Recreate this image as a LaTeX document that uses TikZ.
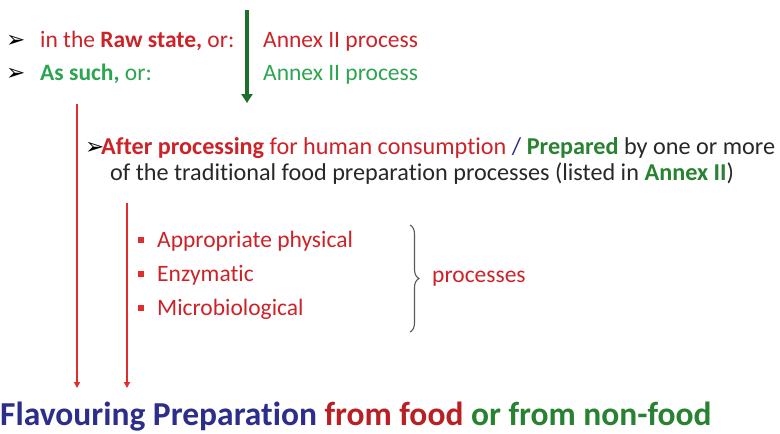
\documentclass[tikz,border=0pt]{standalone}
\usepackage{fontspec}
\setmainfont{Carlito}[Ligatures={NoCommon}]
\newfontfamily\dingfont{DejaVu Sans}
\usetikzlibrary{arrows.meta,decorations.pathreplacing}
\definecolor{txtred}{RGB}{205,35,40}
\definecolor{txtgreen}{RGB}{45,165,80}
\definecolor{darkgreen}{RGB}{30,110,45}
\definecolor{prepgreen}{RGB}{40,130,50}
\definecolor{navy}{RGB}{45,45,140}
\definecolor{linered}{RGB}{225,45,45}
\definecolor{bodygray}{RGB}{40,40,40}
\definecolor{bracegray}{RGB}{90,90,90}
\tikzset{
  txt/.style={anchor=base west, inner sep=0pt, font=\fontsize{23.5}{28}\selectfont},
  midtxt/.style={anchor=base west, inner sep=0pt, font=\fontsize{24.2}{29}\selectfont},
  bigtxt/.style={anchor=base west, inner sep=0pt, font=\fontsize{33.5}{40}\selectfont\bfseries},
  pointer/.style={anchor=base west, inner sep=0pt, font=\dingfont\fontsize{23}{26}\selectfont, text=black},
  bulletsq/.style={fill=linered, minimum size=6pt, inner sep=0pt},
  flowred/.style={draw=linered, line width=1.4pt, -{Triangle[length=6pt,width=6pt]}},
  flowgreen/.style={draw=darkgreen, line width=3.2pt, -{Triangle[length=9pt,width=11pt]}},
}
\begin{document}
\begin{tikzpicture}[x=1pt,y=-1pt]
\useasboundingbox (0,0) rectangle (780,434);
\fill[white] (0,0) rectangle (780,434);

% first two options
\node[pointer] (p1) at (6,47) {➢};
\node[txt, text=txtred] (raw) at (40,47) {in the \textbf{Raw state,} or:};
\node[pointer] (p2) at (6,80) {➢};
\node[txt, text=txtgreen] (such) at (40,80) {\textbf{As such,} or:};
\node[txt, text=txtred] (ann1) at (263,47) {Annex II process};
\node[txt, text=txtgreen] (ann2) at (263,80) {Annex II process};

\coordinate (gtop) at (247,10);
\coordinate (gbot) at (247,103);
\draw[flowgreen] (gtop) -- (gbot);

% processing option
\node[pointer] (p3) at (85,154) {➢};
\node[midtxt, text=bodygray] (after) at (101,154)
  {\textcolor{txtred}{\textbf{After processing} for human consumption} \textcolor{navy}{/} \textcolor{prepgreen}{\textbf{Prepared}} by one or more};
\node[midtxt, text=bodygray] (trad) at (110,180)
  {of the traditional food preparation processes (listed in \textcolor{prepgreen}{\textbf{Annex II}})};

% process list
\node[bulletsq] (b1) at (141,240) {};
\node[bulletsq] (b2) at (141,274) {};
\node[bulletsq] (b3) at (141,308) {};
\node[txt, text=txtred] (i1) at (157,247) {Appropriate physical};
\node[txt, text=txtred] (i2) at (157,281) {Enzymatic};
\node[txt, text=txtred] (i3) at (157,315) {Microbiological};
\coordinate (brtop) at (410,225);
\coordinate (brbot) at (410,332);
\draw[bracegray, line width=1.1pt, decorate, decoration={brace, amplitude=9pt}] (brtop) -- (brbot);
\node[txt, text=txtred] (proc) at (432,282) {processes};

% arrows down to the result
\coordinate (l1top) at (77,104);
\coordinate (l1bot) at (77,388);
\coordinate (l2top) at (127,203);
\coordinate (l2bot) at (127,388);
\draw[flowred] (l1top) -- (l1bot);
\draw[flowred] (l2top) -- (l2bot);

\node[bigtxt, text=navy] (result) at (0,425)
  {Flavouring Preparation \textcolor{txtred!90!black}{from food} \textcolor{prepgreen}{or from non-food}};
\end{tikzpicture}
\end{document}
